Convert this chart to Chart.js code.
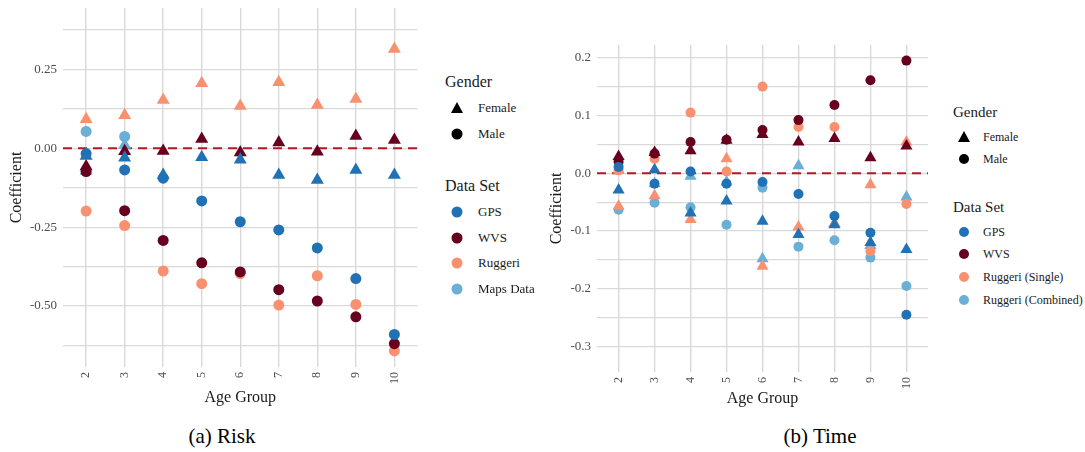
<!DOCTYPE html>
<html>
<head>
  <meta charset="utf-8">
  <style>
    body {
      margin: 0;
      padding: 0;
      background: #fff;
      font-family: "Liberation Serif", "DejaVu Serif", serif;
    }
    #page {
      position: relative;
      width: 1085px;
      height: 452px;
      overflow: hidden;
    }
    canvas { position: absolute; top: 0; }
    #risk-chart { left: 0; }
    #time-chart { left: 530px; }

    .caption {
      position: absolute;
      top: 424px;
      font-size: 21px;
      color: #000;
      transform: translateX(-50%);
      white-space: nowrap;
    }

    .legend { position: absolute; color: #1a1a1a; }
    .legend .title { position: absolute; left: 0; white-space: nowrap; }
    .legend .item { position: absolute; white-space: nowrap; }
    .legend .item span { position: absolute; top: 0; transform: translateY(-50%); }
    .sym-tri {
      position: absolute;
      width: 0; height: 0;
      border-left: 6px solid transparent;
      border-right: 6px solid transparent;
      border-bottom: 11px solid #000;
      transform: translate(-50%, -55%);
    }
    .sym-dot {
      position: absolute;
      width: 11px; height: 11px;
      border-radius: 50%;
      transform: translate(-50%, -50%);
    }
  </style>
  <script src="https://cdn.jsdelivr.net/npm/chart.js"></script>
</head>
<body>
<div id="page">
  <canvas id="risk-chart" width="425" height="410"></canvas>
  <canvas id="time-chart" width="405" height="410"></canvas>
  <div class="caption" style="left:222px;">(a) Risk</div>
  <div class="caption" style="left:820px;">(b) Time</div>
  <div id="risk-legend" class="legend" style="left:445px; top:0;"></div>
  <div id="time-legend" class="legend" style="left:953px; top:0;"></div>
</div>

<script>
  // Age groups on the x axis
  const ages = [2, 3, 4, 5, 6, 7, 8, 9, 10];

  // Risk coefficients by data set and gender (null = not estimated)
  const riskGpsFemale     = [-0.025, -0.030, -0.085, -0.029, -0.037, -0.085, -0.101, -0.069, -0.085];
  const riskGpsMale       = [-0.017, -0.069, -0.095, -0.167, -0.233, -0.259, -0.316, -0.413, -0.590];
  const riskWvsFemale     = [-0.058, -0.010, -0.009, 0.029, -0.014, 0.018, -0.011, 0.039, 0.026];
  const riskWvsMale       = [-0.074, -0.198, -0.292, -0.363, -0.392, -0.448, -0.484, -0.534, -0.619];
  const riskRuggeriFemale = [0.092, 0.104, 0.153, 0.206, 0.134, 0.209, 0.137, 0.156, 0.314];
  const riskRuggeriMale   = [-0.199, -0.245, -0.389, -0.429, -0.397, -0.497, -0.404, -0.495, -0.642];
  const riskMapsFemale    = [-0.072, 0.010, null, null, null, null, null, null, null];
  const riskMapsMale      = [0.053, 0.037, null, null, null, null, null, null, null];

  // Time coefficients by data set and gender
  const timeGpsFemale      = [-0.029, 0.006, -0.069, -0.048, -0.083, -0.106, -0.089, -0.120, -0.132];
  const timeGpsMale        = [0.011, -0.018, 0.003, -0.018, -0.015, -0.036, -0.074, -0.103, -0.245];
  const timeWvsFemale      = [0.029, 0.036, 0.039, 0.057, 0.067, 0.054, 0.060, 0.027, 0.047];
  const timeWvsMale        = [0.020, 0.034, 0.054, 0.058, 0.075, 0.092, 0.118, 0.161, 0.195];
  const timeSingleFemale   = [-0.057, -0.039, -0.080, 0.025, -0.161, -0.093, -0.087, -0.020, 0.054];
  const timeSingleMale     = [0.005, 0.025, 0.105, 0.003, 0.150, 0.080, 0.080, -0.135, -0.053];
  const timeCombinedFemale = [0.005, -0.018, -0.005, -0.015, -0.148, 0.013, -0.087, -0.125, -0.041];
  const timeCombinedMale   = [-0.063, -0.051, -0.059, -0.089, -0.025, -0.127, -0.116, -0.146, -0.195];

  // Legend entries
  const genderLabels = ["Female", "Male"];
  const riskSetLabels = ["GPS", "WVS", "Ruggeri", "Maps Data"];
  const timeSetLabels = ["GPS", "WVS", "Ruggeri (Single)", "Ruggeri (Combined)"];

  const setColors = ["#2171b5", "#67001f", "#f99170", "#6baed6"];
  const zeroColor = "#b2182b";
  const gridColor = "#d9d9d9";
  const serif = "'Liberation Serif', 'DejaVu Serif', serif";

  Chart.defaults.font.family = serif;

  function toPoints(vals) {
    const out = [];
    ages.forEach((a, i) => {
      if (vals[i] !== null) out.push({ x: a, y: vals[i] });
    });
    return out;
  }

  function buildDatasets(series, triR, dotR) {
    // series: [[female, male], ...] in legend order; first one is drawn on top
    const ds = [];
    series.forEach((pair, k) => {
      ds.push({
        type: "scatter",
        data: toPoints(pair[0]),
        pointStyle: "triangle",
        pointRadius: triR,
        backgroundColor: setColors[k],
        borderColor: setColors[k],
        borderWidth: 0,
        order: k + 1
      });
      ds.push({
        type: "scatter",
        data: toPoints(pair[1]),
        pointStyle: "circle",
        pointRadius: dotR,
        backgroundColor: setColors[k],
        borderColor: setColors[k],
        borderWidth: 0,
        order: k + 1
      });
    });
    // dashed reference line at zero
    ds.push({
      type: "line",
      data: [{ x: 1.4, y: 0 }, { x: 10.6, y: 0 }],
      borderColor: zeroColor,
      borderWidth: 2,
      borderDash: [9, 6],
      pointRadius: 0,
      order: 10
    });
    return ds;
  }

  function makeChart(id, cfg) {
    return new Chart(document.getElementById(id), {
      data: { datasets: buildDatasets(cfg.series, cfg.triR, cfg.dotR) },
      options: {
        responsive: false,
        animation: false,
        layout: { padding: { top: cfg.top, right: 4, left: 0, bottom: 0 } },
        plugins: { legend: { display: false }, tooltip: { enabled: false } },
        scales: {
          x: {
            type: "linear",
            min: 1.4,
            max: 10.6,
            border: { display: false },
            grid: { color: gridColor, lineWidth: 1.4, drawTicks: false },
            ticks: {
              stepSize: 1,
              includeBounds: false,
              autoSkip: false,
              minRotation: 90,
              maxRotation: 90,
              padding: 5,
              color: "#4d4d4d",
              font: { size: 12 }
            },
            title: {
              display: true,
              text: "Age Group",
              color: "#1a1a1a",
              font: { size: 16 },
              padding: { top: 0, bottom: cfg.xTitlePad }
            },
            afterFit: s => {
              s.height = cfg.xHeight;
              s.paddingLeft = 0;
              s.paddingRight = 0;
            }
          },
          y: {
            type: "linear",
            min: cfg.yMin,
            max: cfg.yMax,
            border: { display: false },
            grid: { color: gridColor, lineWidth: 1.2, drawTicks: false },
            ticks: {
              stepSize: cfg.yStep,
              includeBounds: false,
              padding: 6,
              color: "#4d4d4d",
              font: { size: 13 },
              callback: cfg.yLabel
            },
            title: {
              display: true,
              text: "Coefficient",
              color: "#1a1a1a",
              font: { size: 16 },
              padding: { top: cfg.yTitlePad, bottom: 0 }
            },
            afterFit: s => {
              s.width = cfg.yWidth;
              s.paddingTop = 0;
              s.paddingBottom = 0;
            }
          }
        }
      }
    });
  }

  makeChart("risk-chart", {
    series: [
      [riskGpsFemale, riskGpsMale],
      [riskWvsFemale, riskWvsMale],
      [riskRuggeriFemale, riskRuggeriMale],
      [riskMapsFemale, riskMapsMale]
    ],
    triR: 7.5, dotR: 5.5,
    top: 8, xHeight: 43, xTitlePad: 3, yWidth: 63, yTitlePad: 7,
    yMin: -0.693, yMax: 0.444, yStep: 0.125,
    yLabel: v => {
      const q = v / 0.25;
      return Math.abs(q - Math.round(q)) < 1e-6 ? v.toFixed(2) : "";
    }
  });

  makeChart("time-chart", {
    series: [
      [timeGpsFemale, timeGpsMale],
      [timeWvsFemale, timeWvsMale],
      [timeSingleFemale, timeSingleMale],
      [timeCombinedFemale, timeCombinedMale]
    ],
    triR: 7, dotR: 5,
    top: 45, xHeight: 38, xTitlePad: 2, yWidth: 67, yTitlePad: 17,
    yMin: -0.344, yMax: 0.222, yStep: 0.05,
    yLabel: v => {
      const q = v / 0.1;
      return Math.abs(q - Math.round(q)) < 1e-6 ? v.toFixed(1) : "";
    }
  });

  // Two-part legends: gender shapes, then data set colours
  function buildLegend(id, setLabels, lay) {
    const box = document.getElementById(id);
    let html = "";
    html += `<div class="title" style="top:${lay.genderY}px;font-size:${lay.titleSize}px;transform:translateY(-50%)">Gender</div>`;
    genderLabels.forEach((g, i) => {
      const y = lay.genderY + lay.firstGap + i * lay.step;
      const sym = i === 0
        ? `<div class="sym-tri" style="left:${lay.symX}px;top:0"></div>`
        : `<div class="sym-dot" style="left:${lay.symX}px;top:0;background:#000;width:${lay.dot}px;height:${lay.dot}px"></div>`;
      html += `<div class="item" style="top:${y}px;left:0;font-size:${lay.itemSize}px">${sym}<span style="left:${lay.textX}px">${g}</span></div>`;
    });
    html += `<div class="title" style="top:${lay.setY}px;font-size:${lay.titleSize}px;transform:translateY(-50%)">Data Set</div>`;
    setLabels.forEach((s, i) => {
      const y = lay.setY + lay.firstGap + i * lay.step;
      html += `<div class="item" style="top:${y}px;left:0;font-size:${lay.itemSize}px">` +
        `<div class="sym-dot" style="left:${lay.symX}px;top:0;background:${setColors[i]};width:${lay.dot}px;height:${lay.dot}px"></div>` +
        `<span style="left:${lay.textX}px">${s}</span></div>`;
    });
    box.innerHTML = html;
  }

  buildLegend("risk-legend", riskSetLabels, {
    genderY: 82, setY: 186, firstGap: 26, step: 25.5,
    symX: 12, textX: 33, titleSize: 16, itemSize: 13, dot: 11
  });
  buildLegend("time-legend", timeSetLabels, {
    genderY: 112, setY: 207, firstGap: 24.5, step: 22.7,
    symX: 11, textX: 30, titleSize: 15, itemSize: 12, dot: 10
  });
</script>
</body>
</html>
